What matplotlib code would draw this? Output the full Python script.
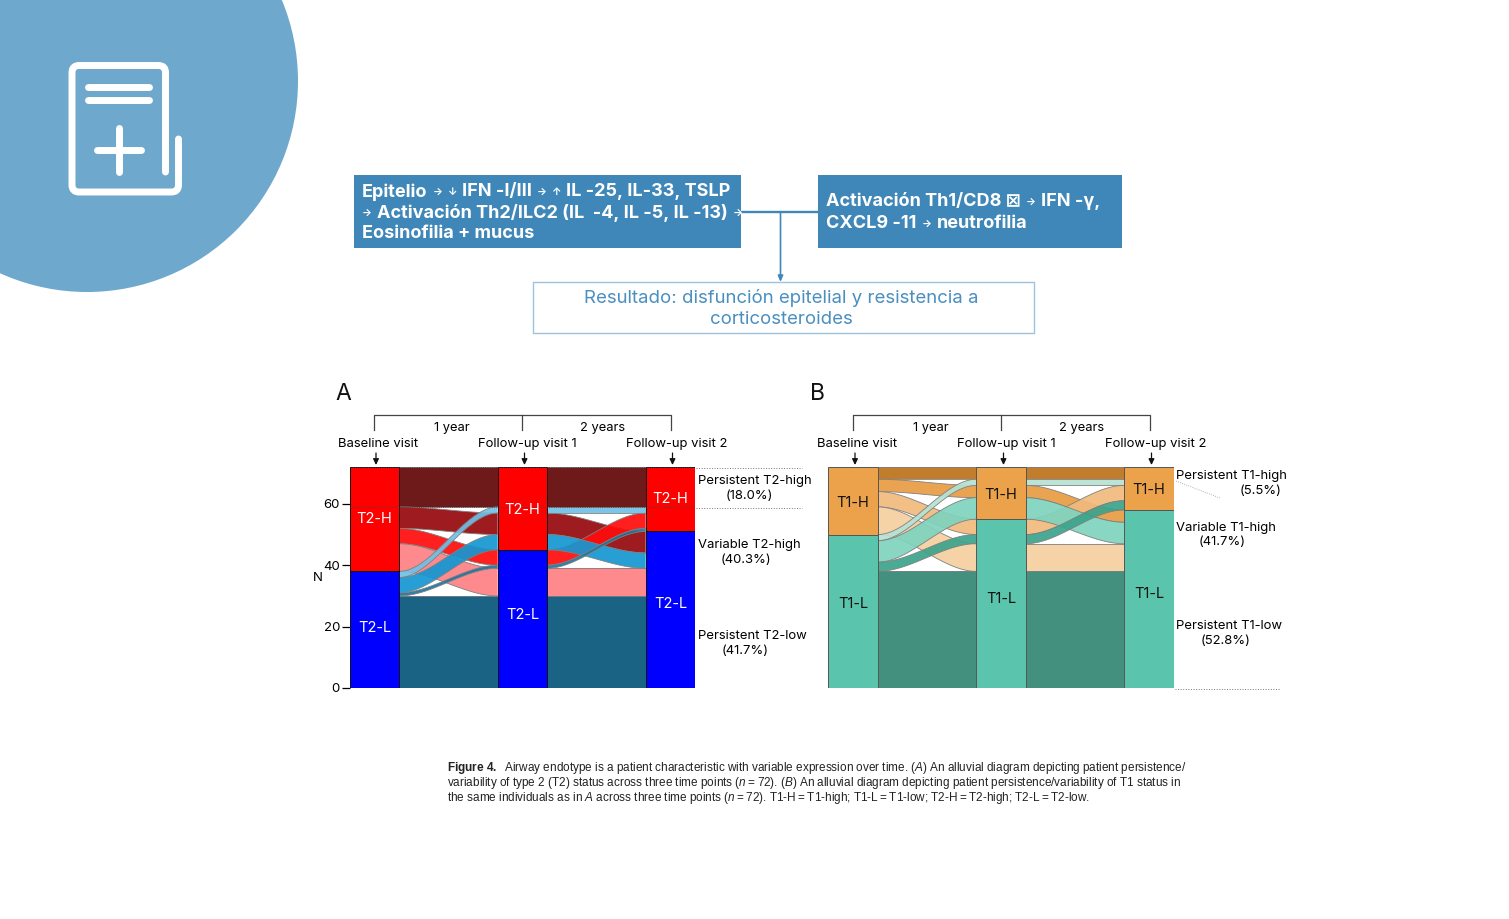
import re
from matplotlib.patches import Circle, PathPatch, Rectangle
from matplotlib.path import Path
import matplotlib.pyplot as plt
import numpy as np

#	Data

paths = ["HHH", "HHL", "HLH", "HLL", "LHH", "LHL", "LLH", "LLL"]
counts_a = [13, 7, 5, 9, 2, 5, 1, 30]
counts_b = [4, 4, 5, 9, 2, 7, 3, 38]

# stacking order of the patient paths at each visit, top to bottom
order_visit0 = ["HHH", "HHL", "HLH", "HLL", "LHH", "LHL", "LLH", "LLL"]
order_visit1 = ["HHH", "LHH", "HHL", "LHL", "HLH", "LLH", "HLL", "LLL"]
order_visit2 = ["HHH", "LHH", "HLH", "LLH", "HHL", "LHL", "HLL", "LLL"]

visit_labels = ["Baseline visit", "Follow-up visit 1", "Follow-up visit 2"]
interval_labels = ["1 year", "2 years"]
n_ticks = [0, 20, 40, 60]

summary_a = [("Persistent T2-high", "(18.0%)"), ("Variable T2-high", "(40.3%)"), ("Persistent T2-low", "(41.7%)")]
summary_b = [("Persistent T1-high", "(5.5%)"), ("Variable T1-high", "(41.7%)"), ("Persistent T1-low", "(52.8%)")]

box_left = ["Epitelio → ↓ IFN -I/III → ↑ IL -25, IL-33, TSLP",
            "→ Activación Th2/ILC2 (IL  -4, IL -5, IL -13) →",
            "Eosinofilia + mucus"]
box_right = ["Activación Th1/CD8 ⊠ → IFN -γ,", "CXCL9 -11 → neutrofilia"]
box_result = ["Resultado: disfunción epitelial y resistencia a", "corticosteroides"]

caption = [
    r"$\mathbf{Figure\ 4.}$  Airway endotype is a patient characteristic with variable expression over time. ($\mathit{A}$) An alluvial diagram depicting patient persistence/",
    "variability of type 2 (T2) status across three time points ($\\mathit{n}$\u2009=\u200972). ($\\mathit{B}$) An alluvial diagram depicting patient persistence/variability of T1 status in",
    "the same individuals as in $\\mathit{A}$ across three time points ($\\mathit{n}$\u2009=\u200972). T1-H\u2009=\u2009T1-high; T1-L\u2009=\u2009T1-low; T2-H\u2009=\u2009T2-high; T2-L\u2009=\u2009T2-low.",
]

#	Styles

colors_a = {"HHH": "#6f1a1a", "HHL": "#96080c", "HLH": "#ff0c0c", "HLL": "#ff8084",
            "LHH": "#70c0e8", "LHL": "#1497d2", "LLH": "#1c759f", "LLL": "#1b6384"}
colors_b = {"HHH": "#c27d2c", "HHL": "#e99c42", "HLH": "#f1ba7c", "HLL": "#f5d0a0",
            "LHH": "#b5e2d4", "LHL": "#7fd3be", "LLH": "#3ba38a", "LLL": "#43907f"}
BLUE = "#3f87b9"
SANS = ["Inter", "DejaVu Sans"]

plt.rcParams['font.family'] = SANS
plt.rcParams['mathtext.fontset'] = 'custom'
plt.rcParams['mathtext.rm'] = 'Liberation Sans'
plt.rcParams['mathtext.it'] = 'Liberation Sans:italic'
plt.rcParams['mathtext.bf'] = 'Liberation Sans:bold'

W, H = 1509, 919

#	Functions

def stack(order, counts):
    # returns {path: (bottom, top)} for one visit
    size = dict(zip(paths, counts))
    spans = {}
    top = sum(counts)
    for p in order:
        spans[p] = (top - size[p], top)
        top -= size[p]
    return spans

def flow(ax, x0, x1, span0, span1, color, alpha):
    t = np.linspace(0, 1, 60)
    s = t * t * (3 - 2 * t)
    x = x0 + (x1 - x0) * t
    lower = span0[0] + (span1[0] - span0[0]) * s
    upper = span0[1] + (span1[1] - span0[1]) * s
    ax.fill_between(x, lower, upper, facecolor=color, edgecolor="none", alpha=alpha, zorder=2)
    ax.plot(x, lower, color="#808080", lw=0.6, zorder=2)
    ax.plot(x, upper, color="#808080", lw=0.6, zorder=2)

def alluvial(left, counts, colors, high, low, high_color, low_color, text_color, edge, prefix, show_axis):
    width = 49.5 / 148
    ax = fig.add_axes([left / W, (H - 688) / H, (2 * 148 + 49.5) / W, 221 / H])
    ax.patch.set_alpha(0)
    spans = [stack(o, counts) for o in (order_visit0, order_visit1, order_visit2)]
    for v in range(2):
        for p, c in zip(paths, counts):
            a = 1 if p in ("HHH", "LLL") else 0.92
            flow(ax, v + width / 2, v + 1 - width / 2, spans[v][p], spans[v + 1][p], colors[p], a)
    for v in range(3):
        n_high = sum(c for p, c in zip(paths, counts) if p[v] == "H")
        ax.bar(v, n_high, width, bottom=sum(counts) - n_high, color=high_color, edgecolor=edge, linewidth=0.7, zorder=3)
        ax.bar(v, sum(counts) - n_high, width, color=low_color, edgecolor=edge, linewidth=0.7, zorder=3)
        ax.text(v, sum(counts) - n_high / 2 + high[v], prefix + "-H", color=text_color, ha="center", va="center", fontsize=10.5, zorder=5)
        ax.text(v, (sum(counts) - n_high) / 2 + low[v], prefix + "-L", color=text_color, ha="center", va="center", fontsize=10.5, zorder=5)
    ax.set_xlim(-width / 2, 2 + width / 2)
    ax.set_ylim(0, 72)
    ax.set_xticks([])
    for spine in ax.spines.values():
        spine.set_visible(False)
    if show_axis:
        ax.set_yticks(n_ticks)
        ax.tick_params(axis="y", length=6, width=0.9, labelsize=9.5, pad=1)
        ax.axhline(sum(counts), color="#444444", lw=0.6, ls=":", zorder=4)
        ax.axhline(sum(counts) - counts[0], color="#444444", lw=0.6, ls=":", zorder=4)
    else:
        ax.set_yticks([])
    return ax

def header(bg, x0, panel, panel_x):
    bg.text(panel_x, 393.5, panel, fontsize=16.5, ha="left", va="center", color="#111111")
    c = [x0, x0 + 148, x0 + 297]
    bg.plot([c[0], c[0], c[2], c[2]], [430, 415, 415, 430], color="#444444", lw=0.9)
    bg.plot([c[1], c[1]], [415, 430], color="#444444", lw=0.9)
    bg.text(x0 + 78, 427.5, interval_labels[0], fontsize=9.3, ha="center", va="center")
    bg.text(x0 + 229, 427.5, interval_labels[1], fontsize=9.3, ha="center", va="center")
    centers = [x0 + 2, x0 + 150.5, x0 + 298.5]
    for i, lab in enumerate(visit_labels):
        bg.text(c[i] + [4, 5, 5.5][i], 444, lab, fontsize=9.4, ha="center", va="center")
        bg.annotate("", xy=(centers[i], 465), xytext=(centers[i], 453),
                    arrowprops=dict(arrowstyle="-|>,head_width=0.17,head_length=0.35", color="#111111", lw=0.9, shrinkA=0, shrinkB=0))

def arrow_line(bg, x, y, line):
    # the arrows of the boxes are much smaller than the letters, place the pieces one by one
    renderer = fig.canvas.get_renderer()
    for piece in re.split(r"([→↓↑])", line):
        piece = piece.strip()
        if not piece:
            continue
        small = piece in "→↓↑"
        t = bg.text(x, y, piece, color="white", fontsize=7.5 if small else 13, fontweight="bold", ha="left", va="center")
        x += t.get_window_extent(renderer).width + 5

def summary(bg, x_left, items, centers, ys):
    for (first, second), xc, (y0, y1) in zip(items, centers, ys):
        bg.text(x_left, y0, first, fontsize=9.4, ha="left", va="center")
        bg.text(xc, y1, second, fontsize=9.4, ha="center", va="center")

#	main

fig = plt.figure(figsize=(W / 100, H / 100), dpi=100, facecolor="white")
bg = fig.add_axes([0, 0, 1, 1])
bg.set_xlim(0, W)
bg.set_ylim(H, 0)
bg.axis("off")

#	corner circle and icon

bg.add_patch(Circle((87, 81), 211, facecolor="#6fa8cd", edgecolor="none"))
r = 7
doc = Path([(165.5, 172), (165.5, 65.5 + r), (165.5, 65.5), (165.5 - r, 65.5), (72 + r, 65.5), (72, 65.5), (72, 65.5 + r),
            (72, 192 - r), (72, 192), (72 + r, 192), (178.5 - r, 192), (178.5, 192), (178.5, 192 - r), (178.5, 139)],
           [Path.MOVETO, Path.LINETO, Path.CURVE3, Path.CURVE3, Path.LINETO, Path.CURVE3, Path.CURVE3,
            Path.LINETO, Path.CURVE3, Path.CURVE3, Path.LINETO, Path.CURVE3, Path.CURVE3, Path.LINETO])
bg.add_patch(PathPatch(doc, facecolor="none", edgecolor="white", lw=5, capstyle="round", joinstyle="round"))
for xs, ys in [([88, 149], [86.5, 86.5]), ([88, 149], [99.5, 99.5]), ([97, 141], [150, 150]), ([118.5, 118.5], [128, 172])]:
    bg.plot(xs, ys, color="white", lw=5, solid_capstyle="round")

#	flow boxes

bg.plot([741, 818], [212, 212], color=BLUE, lw=1.7)
bg.annotate("", xy=(780.5, 282), xytext=(780.5, 212),
            arrowprops=dict(arrowstyle="-|>,head_width=0.15,head_length=0.35", color=BLUE, lw=1.2, shrinkA=0, shrinkB=0))
bg.add_patch(Rectangle((354, 175), 387, 73, facecolor=BLUE, edgecolor="none"))
bg.add_patch(Rectangle((818, 175), 304, 73, facecolor=BLUE, edgecolor="none"))
bg.add_patch(Rectangle((533, 282), 501, 51, facecolor="white", edgecolor="#9cc3dc", lw=1.0))
for y, line in zip([192, 213, 234], box_left):
    arrow_line(bg, 362, y, line)
for y, line in zip([202, 224], box_right):
    arrow_line(bg, 826, y, line)
for y, line in zip([298, 319], box_result):
    bg.text(781, y, line, color="#4a8fc0", fontsize=13.4, ha="center", va="center")

#	panels

alluvial(349.7, counts_a, colors_a, [0, -0.6, 0], [0.5, 1.3, 2], "#ff0000", "#0000ff", "white", "#111111", "T2", True)
alluvial(828.2, counts_b, colors_b, [-0.6, -0.6, -0.6], [2.4, 1.6, 1.6], "#eca24a", "#5ac4ac", "#111111", "#555555", "T1", False)
bg.text(318, 578, "N", fontsize=9.5, ha="center", va="center")

header(bg, 374, "A", 335.5)
header(bg, 853, "B", 810)

#	dotted guides and summary labels

for y in [467.5, 507.5]:
    bg.plot([696, 802], [y, y], color="#777777", lw=0.7, ls=":")
bg.plot([1176, 1220], [481, 498], color="#999999", lw=0.6, ls=":")
bg.plot([1175, 1280], [688.5, 688.5], color="#777777", lw=0.7, ls=":")
summary(bg, 698, summary_a, [749.5, 745.5, 745], [(481, 496), (545, 560), (636, 651)])
summary(bg, 1176, summary_b, [1261, 1222, 1226], [(476, 491), (528, 542), (626, 641)])

#	caption

for y, line in zip([768.5, 783, 797.5], caption):
    bg.text(447, y, line, fontsize=8.5, family="Liberation Sans", color="#222222", ha="left", va="center")

plt.savefig("out.png", dpi=100)
